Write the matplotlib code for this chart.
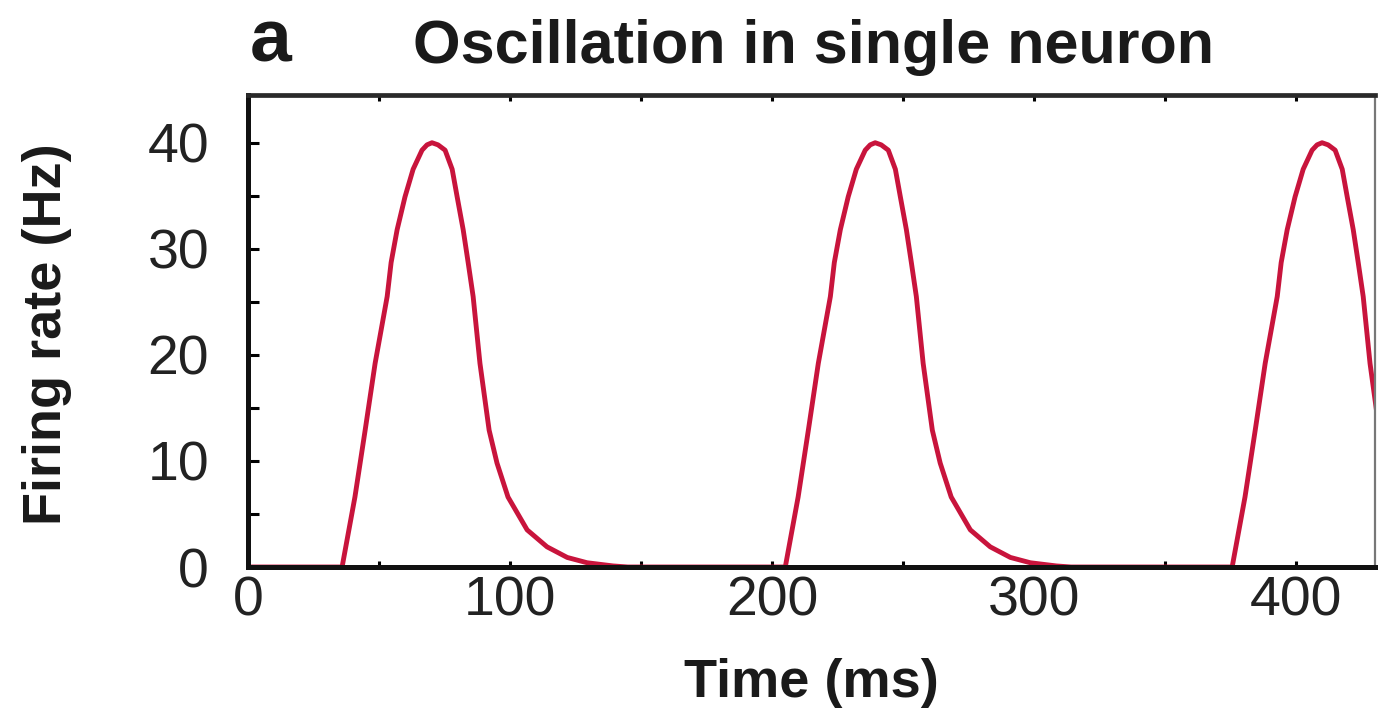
import matplotlib.pyplot as plt
from matplotlib.ticker import MultipleLocator

plt.rcParams['font.family'] = ['Liberation Sans', 'DejaVu Sans']

# one burst of the rate trace: time from burst onset (ms) and firing rate (Hz)
cycle_offset = [0.0, 4.9, 8.8, 12.6, 17.2, 18.7, 21.0, 24.0, 27.1, 30.5, 32.4, 34.3,
                36.6, 39.3, 42.0, 43.9, 46.2, 48.1, 50.0, 52.6, 56.1, 59.1, 63.3,
                70.6, 78.2, 85.9, 93.5, 103.4, 109.0]
cycle_rate = [0.0, 6.6, 12.9, 19.2, 25.5, 28.7, 31.8, 34.9, 37.5, 39.3, 39.8, 40.0,
              39.8, 39.3, 37.5, 34.9, 31.8, 28.7, 25.5, 19.2, 12.9, 9.8, 6.6,
              3.5, 1.9, 0.9, 0.4, 0.1, 0.0]
# onset time of each burst (ms)
burst_onsets = [35.9, 205.0, 375.5]

x_ticks = [0, 100, 200, 300, 400]
y_ticks = [0, 10, 20, 30, 40]

time = [0.0]
rate = [0.0]
for onset in burst_onsets:
    time += [onset + dt for dt in cycle_offset]
    rate += cycle_rate

W, H = 1378, 716
fig = plt.figure(figsize=(W / 100, H / 100), dpi=100)
ax = fig.add_axes([248 / W, 149 / H, 1127 / W, 472 / H])

# keep the trace under the spines so the silent stretches sit on the axis line
ax.plot(time, rate, color='#c8143c', lw=3.5, solid_joinstyle='round',
        solid_capstyle='round', zorder=2)

ax.set_xlim(0, 430)
ax.set_ylim(0, 44.5)
ax.set_xticks(x_ticks)
ax.set_yticks(y_ticks)
ax.xaxis.set_minor_locator(MultipleLocator(50))
ax.yaxis.set_minor_locator(MultipleLocator(5))

for side in ['left', 'bottom']:
    ax.spines[side].set_linewidth(3.6)
    ax.spines[side].set_color('#111111')
ax.spines['top'].set_linewidth(3.4)
ax.spines['top'].set_color('#2a2a2a')
ax.spines['right'].set_linewidth(1.6)
ax.spines['right'].set_color('#777777')

ax.tick_params(axis='y', which='both', direction='in', length=8, width=2.2,
               pad=28, labelsize=40, labelcolor='#222222')
ax.tick_params(axis='x', which='both', direction='in', length=4, width=2.2,
               top=True, pad=6, labelsize=40, labelcolor='#222222')

fig.text(47 / W, 1 - 334 / H, 'Firing rate (Hz)', rotation=90, ha='center',
         va='center', fontsize=39, fontweight='bold', color='#1a1a1a')
fig.text(811 / W, 1 - 683 / H, 'Time (ms)', ha='center', va='center',
         fontsize=39, fontweight='bold', color='#1a1a1a')
fig.text(814 / W, 1 - 63 / H, 'Oscillation in single neuron', ha='center',
         va='baseline', fontsize=44, fontweight='bold', color='#1a1a1a')
fig.text(250 / W, 1 - 62 / H, 'a', ha='left', va='baseline',
         fontsize=54, fontweight='bold', color='#1a1a1a')

fig.savefig('out.png', dpi=100)
